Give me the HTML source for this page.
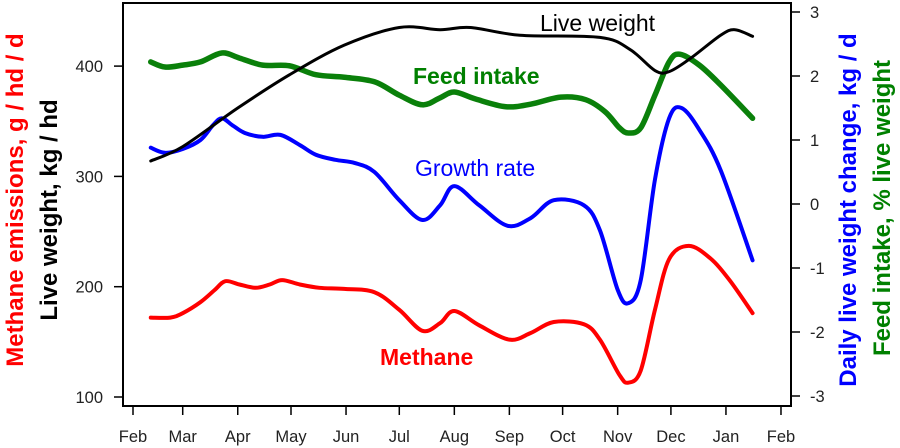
<!DOCTYPE html>
<html><head><meta charset="utf-8"><style>
body{margin:0;background:#fff}
svg{display:block;font-family:"Liberation Sans",Arial,sans-serif}
</style></head><body>
<svg id="chart" width="900" height="448" viewBox="0 0 900 448" xmlns="http://www.w3.org/2000/svg">
<rect x="123" y="3" width="668" height="403" fill="none" stroke="#000" stroke-width="2"/>
<g id="xaxis"></g>
<g id="yleft"></g>
<g id="yright"></g>
<g id="series"></g>
<text transform="translate(23,200) rotate(-90)" text-anchor="middle" font-size="24" font-weight="bold" fill="#ff0000">Methane emissions, g / hd / d</text>
<text transform="translate(57,210) rotate(-90)" text-anchor="middle" font-size="24" font-weight="bold" fill="#000">Live weight, kg / hd</text>
<text transform="translate(856,210) rotate(-90)" text-anchor="middle" font-size="24" font-weight="bold" fill="#0000ff">Daily live weight change, kg / d</text>
<text transform="translate(890,208) rotate(-90)" text-anchor="middle" font-size="24" font-weight="bold" fill="#008000">Feed intake, % live weight</text>
<text x="540" y="31" font-size="23" fill="#000">Live weight</text>
<text x="413" y="84" font-size="23" font-weight="bold" fill="#008000">Feed intake</text>
<text x="415" y="176" font-size="23" fill="#0000ff">Growth rate</text>
<text x="380" y="365" font-size="23" font-weight="bold" fill="#ff0000">Methane</text>
</svg>
<script>
const monthLabels=["Feb","Mar","Apr","May","Jun","Jul","Aug","Sep","Oct","Nov","Dec","Jan","Feb"];
const monthDays=[0,28,59,89,120,150,181,212,242,273,303,334,365];
const leftTicks=[100,200,300,400];
const rightTicks=[3,2,1,0,-1,-2,-3];
const lwDays=[10,28,59,88,119,150,173,190,218,263,280,294,302,314,331,339,349];
const lwVals=[314,327,362,392,419,435,433,435,428,426,415,396,395,407,428,433,427];
const fiDays=[10,18,28,38,50,60,73,88,103,119,136,150,163,173,181,193,210,224,241,255,266,274,279,286,294,302,308,319,331,349];
const fiVals=[2.22,2.14,2.17,2.22,2.36,2.28,2.17,2.16,2.02,1.98,1.91,1.70,1.55,1.66,1.75,1.64,1.52,1.56,1.67,1.63,1.44,1.19,1.11,1.19,1.70,2.22,2.34,2.17,1.86,1.34];
const grDays=[10,18,28,38,45,50,56,63,73,83,94,103,114,125,136,150,163,173,181,195,211,224,237,254,263,273,279,286,294,302,309,319,331,349];
const grVals=[0.88,0.80,0.86,1.0,1.23,1.34,1.23,1.11,1.05,1.08,0.92,0.77,0.69,0.64,0.50,0.06,-0.25,-0.02,0.28,-0.02,-0.34,-0.22,0.06,-0.02,-0.41,-1.34,-1.55,-1.19,0.38,1.34,1.50,1.16,0.53,-0.88];
const meDays=[10,21,28,38,46,52,60,69,77,84,94,105,119,136,150,163,173,181,195,212,224,237,254,263,274,279,286,294,302,313,325,336,349];
const meVals=[172,172,176,186,197,205,202,199,202,206,202,199,198,195,179,160,167,178,165,152,158,168,166,152,120,113,124,179,225,237,226,206,176];

const NS="http://www.w3.org/2000/svg";
const x=d=>133+d*1.7753;
const yL=v=>397-(v-100)*1.103;
const yR=v=>204-v*64;
function mk(tag,attrs,parent){const e=document.createElementNS(NS,tag);for(const k in attrs)e.setAttribute(k,attrs[k]);parent.appendChild(e);return e;}
const xa=document.getElementById('xaxis');
monthDays.forEach((d,i)=>{
  const t=mk('line',{x1:x(d),x2:x(d),y1:406,y2:415,stroke:'#000','stroke-width':1.5},xa);
  
  
  const l=mk('text',{x:x(d),y:442,'text-anchor':'middle','font-size':16.5,fill:'#222'},xa);
  
  
  l.textContent=monthLabels[i];
});
const yl=document.getElementById('yleft');
leftTicks.forEach(v=>{
  const t=mk('line',{x1:114,x2:123,y1:yL(v),y2:yL(v),stroke:'#000','stroke-width':1.5},yl);
  
  
  const l=mk('text',{x:103,y:yL(v)+6,'text-anchor':'end','font-size':16.5,fill:'#222'},yl);
  
  
  l.textContent=v;
});
const yr=document.getElementById('yright');
rightTicks.forEach(v=>{
  const t=mk('line',{x1:791,x2:800,y1:yR(v),y2:yR(v),stroke:'#000','stroke-width':1.5},yr);
  
  
  const l=mk('text',{x:810,y:yR(v)+6,'text-anchor':'start','font-size':16.5,fill:'#222'},yr);
  
  
  l.textContent=(v<0?'-'+Math.abs(v):v);
});
function smooth(pts){
  let d='M'+pts[0][0]+','+pts[0][1];
  for(let i=0;i<pts.length-1;i++){
    const p0=pts[i-1]||pts[i],p1=pts[i],p2=pts[i+1],p3=pts[i+2]||p2;
    const c1=[p1[0]+(p2[0]-p0[0])/6,p1[1]+(p2[1]-p0[1])/6];
    const c2=[p2[0]-(p3[0]-p1[0])/6,p2[1]-(p3[1]-p1[1])/6];
    d+='C'+c1[0]+','+c1[1]+' '+c2[0]+','+c2[1]+' '+p2[0]+','+p2[1];
  }
  return d;
}
const sg=document.getElementById('series');
function line(days,vals,yf,color,w,name){
  const pts=days.map((d,i)=>[x(d),yf(vals[i])]);
  const p=mk('path',{d:smooth(pts),fill:'none',stroke:color,'stroke-width':w,'stroke-linecap':'round','stroke-linejoin':'round'},sg);
  
  
}
line(meDays,meVals,yL,'#ff0000',4,'methane-line');
line(grDays,grVals,yR,'#0000ff',4,'growth-rate-line');
line(fiDays,fiVals,yR,'#0a800a',5.5,'feed-intake-line');
line(lwDays,lwVals,yL,'#000',3,'live-weight-line');
</script>
</body></html>
